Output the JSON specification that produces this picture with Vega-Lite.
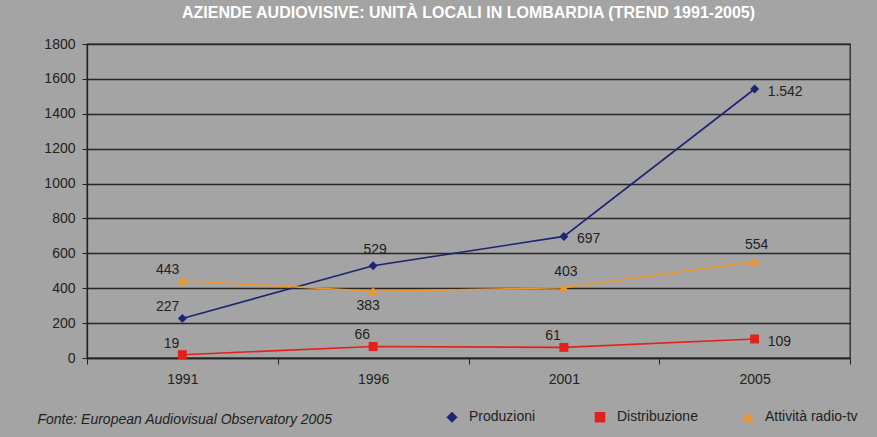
{
  "$schema": "https://vega.github.io/schema/vega-lite/v6.json",
  "width": 763,
  "height": 314,
  "autosize": "none",
  "padding": {"left": 87, "top": 44, "right": 27, "bottom": 79},
  "background": "#a4a4a4",
  "title": {
    "text": "AZIENDE AUDIOVISIVE: UNITÀ LOCALI IN LOMBARDIA (TREND 1991-2005)",
    "color": "#ffffff",
    "fontSize": 16,
    "fontWeight": "bold",
    "font": "Liberation Sans",
    "offset": 16,
    "anchor": "middle"
  },
  "data": {
    "values": [
      {"anno": "1991", "serie": "Produzioni", "valore": 227},
      {"anno": "1996", "serie": "Produzioni", "valore": 529},
      {"anno": "2001", "serie": "Produzioni", "valore": 697},
      {"anno": "2005", "serie": "Produzioni", "valore": 1542},
      {"anno": "1991", "serie": "Distribuzione", "valore": 19},
      {"anno": "1996", "serie": "Distribuzione", "valore": 66},
      {"anno": "2001", "serie": "Distribuzione", "valore": 61},
      {"anno": "2005", "serie": "Distribuzione", "valore": 109},
      {"anno": "1991", "serie": "Attività radio-tv", "valore": 443},
      {"anno": "1996", "serie": "Attività radio-tv", "valore": 383},
      {"anno": "2001", "serie": "Attività radio-tv", "valore": 403},
      {"anno": "2005", "serie": "Attività radio-tv", "valore": 554}
    ]
  },
  "encoding": {
    "x": {
      "field": "anno",
      "type": "ordinal",
      "scale": {"type": "band", "paddingInner": 0, "paddingOuter": 0},
      "axis": {
        "title": "Fonte: European Audiovisual Observatory 2005",
        "titleFontStyle": "italic",
        "titleFontWeight": "normal",
        "titleFontSize": 14,
        "titleAnchor": "start",
        "titleAlign": "left",
        "titleBaseline": "middle",
        "titleX": -50,
        "titleY": 61,
        "labelAngle": 0,
        "tickBand": "extent",
        "tickSize": 6,
        "labelPadding": 8
      }
    },
    "y": {
      "field": "valore",
      "type": "quantitative",
      "scale": {"domain": [0, 1800]},
      "axis": {
        "title": null,
        "values": [0, 200, 400, 600, 800, 1000, 1200, 1400, 1600, 1800],
        "format": "d",
        "grid": true,
        "gridColor": "#262626",
        "gridWidth": 1.4,
        "tickSize": 5,
        "labelPadding": 7
      }
    },
    "color": {
      "field": "serie",
      "type": "nominal",
      "scale": {"domain": ["Produzioni", "Distribuzione", "Attività radio-tv"], "range": ["#1d2475", "#e3211c", "#ec962e"]},
      "legend": {"orient": "none", "legendX": 358, "legendY": 366, "direction": "horizontal", "title": null}
    }
  },
  "layer": [
    {
      "mark": {"type": "line", "strokeWidth": 1.6}
    },
    {
      "mark": {"type": "point", "filled": true, "opacity": 1},
      "encoding": {
        "shape": {
          "field": "serie",
          "type": "nominal",
          "scale": {"domain": ["Produzioni", "Distribuzione", "Attività radio-tv"], "range": ["diamond", "square", "M0,-1L1.1,0.9L-1.1,0.9Z"]},
          "legend": {"orient": "none", "legendX": 358, "legendY": 366, "direction": "horizontal", "title": null}
        },
        "size": {
          "field": "serie",
          "type": "nominal",
          "scale": {"domain": ["Produzioni", "Distribuzione", "Attività radio-tv"], "range": [80, 80, 95]},
          "legend": null
        }
      }
    },
    {
      "transform": [{"filter": "datum.anno == '1991' || (datum.serie == 'Distribuzione' && datum.anno != '2005')"}],
      "mark": {"type": "text", "align": "right", "baseline": "bottom", "dx": -3, "dy": -4, "fontSize": 14},
      "encoding": {"text": {"field": "valore", "type": "quantitative", "format": ",d"}, "color": {"value": "#222222"}}
    },
    {
      "transform": [{"filter": "(datum.serie == 'Produzioni' && datum.anno == '1996') || (datum.serie == 'Attività radio-tv' && (datum.anno == '2001' || datum.anno == '2005'))"}],
      "mark": {"type": "text", "align": "center", "baseline": "bottom", "dx": 2, "dy": -9, "fontSize": 14},
      "encoding": {"text": {"field": "valore", "type": "quantitative", "format": ",d"}, "color": {"value": "#222222"}}
    },
    {
      "transform": [{"filter": "datum.serie == 'Attività radio-tv' && datum.anno == '1996'"}],
      "mark": {"type": "text", "align": "center", "baseline": "top", "dx": -5, "dy": 8, "fontSize": 14},
      "encoding": {"text": {"field": "valore", "type": "quantitative", "format": ",d"}, "color": {"value": "#222222"}}
    },
    {
      "transform": [{"filter": "(datum.serie == 'Produzioni' && (datum.anno == '2001' || datum.anno == '2005')) || (datum.serie == 'Distribuzione' && datum.anno == '2005')"}],
      "mark": {"type": "text", "align": "left", "baseline": "middle", "dx": 13, "dy": 3, "fontSize": 14},
      "encoding": {"text": {"field": "valore", "type": "quantitative", "format": ",d"}, "color": {"value": "#222222"}}
    }
  ],
  "config": {
    "font": "Liberation Sans",
    "locale": {"number": {"decimal": ",", "thousands": ".", "grouping": [3], "currency": ["", " €"]}},
    "view": {"stroke": "#2a2a2a", "strokeWidth": 1.3},
    "axis": {
      "labelFont": "Liberation Sans",
      "titleFont": "Liberation Sans",
      "labelFontSize": 14,
      "labelColor": "#222222",
      "titleColor": "#222222",
      "domainColor": "#222222",
      "tickColor": "#222222",
      "domainWidth": 1.3
    },
    "legend": {
      "labelFont": "Liberation Sans",
      "labelFontSize": 14,
      "labelColor": "#222222",
      "labelOffset": 10,
      "columnPadding": 30,
      "gridAlign": "all",
      "symbolSize": 85,
      "symbolOpacity": 1
    },
    "text": {"font": "Liberation Sans"}
  }
}
